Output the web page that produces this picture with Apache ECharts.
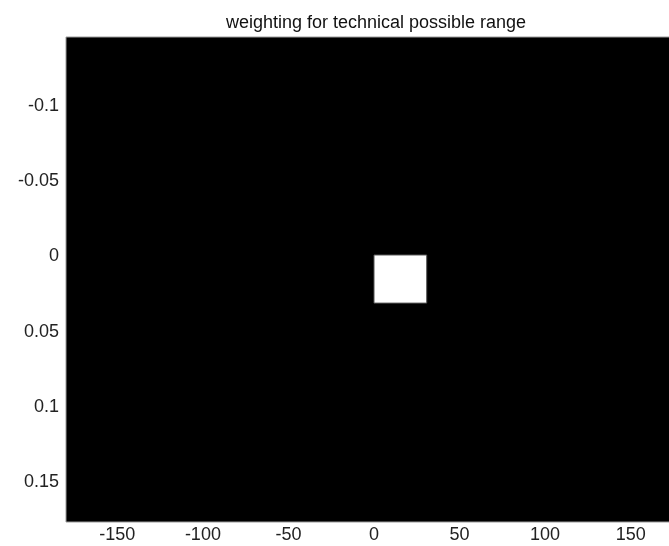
<!DOCTYPE html>
<html>
<head>
<meta charset="utf-8">
<script src="https://cdn.jsdelivr.net/npm/echarts@6/dist/echarts.min.js"></script>
<style>
  html, body { margin: 0; padding: 0; background: #fff; overflow: hidden; }
  /* the canvas is wider than the page; the plot box runs past the right edge */
  #chart { width: 700px; height: 546px; }
</style>
</head>
<body>
<div id="chart"></div>
<script>
// Axis extents (y runs downward, image style)
const xRange = [-180, 180];
const yRange = [-0.146, 0.1766];

// Tick positions and labels
const xTicks = [-150, -100, -50, 0, 50, 100, 150];
const yTicks = [-0.1, -0.05, 0, 0.05, 0.1, 0.15];
const yTickLabels = ['-0.1', '-0.05', '0', '0.05', '0.1', '0.15'];

// Weighted cells: [x start, x end, y start, y end, weight]
const cells = [
  [0, 30.8, -0.001, 0.031, 1]
];

const chart = echarts.init(document.getElementById('chart'), null, { renderer: 'canvas' });

const labelFont = {
  color: '#222',
  fontFamily: 'Liberation Sans, Arial, sans-serif',
  fontSize: 18
};

chart.setOption({
  animation: false,
  backgroundColor: '#ffffff',
  title: {
    text: 'weighting for technical possible range',
    left: 371,
    top: 9,
    textAlign: 'center',
    textStyle: {
      color: '#111',
      fontFamily: 'Liberation Sans, Arial, sans-serif',
      fontSize: 18,
      fontWeight: 'normal'
    }
  },
  grid: {
    left: 66,
    top: 37,
    right: 18,
    bottom: 24,
    outerBoundsMode: 'none',
    show: true,
    backgroundColor: '#000000',
    borderColor: '#9a9a9a',
    borderWidth: 1
  },
  xAxis: {
    type: 'value',
    min: xRange[0],
    max: xRange[1],
    axisLine: { show: false },
    axisTick: { show: false },
    splitLine: { show: false },
    axisLabel: Object.assign({
      customValues: xTicks,
      margin: 4,
      formatter: v => String(v)
    }, labelFont)
  },
  yAxis: {
    type: 'value',
    inverse: true,
    min: yRange[0],
    max: yRange[1],
    axisLine: { show: false },
    axisTick: { show: false },
    splitLine: { show: false },
    axisLabel: Object.assign({
      customValues: yTicks,
      margin: 7,
      formatter: v => {
        const i = yTicks.findIndex(t => Math.abs(t - v) < 1e-9);
        return i >= 0 ? yTickLabels[i] : String(v);
      }
    }, labelFont)
  },
  series: [{
    type: 'custom',
    coordinateSystem: 'cartesian2d',
    encode: { x: [0, 1], y: [2, 3] },
    data: cells,
    renderItem: function (params, api) {
      const p0 = api.coord([api.value(0), api.value(2)]);
      const p1 = api.coord([api.value(1), api.value(3)]);
      const w = api.value(4);
      const g = Math.round(255 * w);
      return {
        type: 'rect',
        shape: {
          x: Math.min(p0[0], p1[0]),
          y: Math.min(p0[1], p1[1]),
          width: Math.abs(p1[0] - p0[0]),
          height: Math.abs(p1[1] - p0[1])
        },
        style: {
          fill: 'rgb(' + g + ',' + g + ',' + g + ')',
          stroke: '#555',
          lineWidth: 1
        }
      };
    }
  }]
});
</script>
</body>
</html>
